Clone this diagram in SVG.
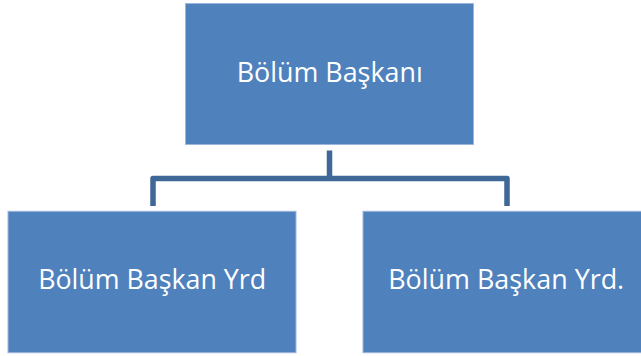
<svg xmlns="http://www.w3.org/2000/svg" width="641" height="356" viewBox="0 0 641 356">
<style>
.box{fill:#4F81BD;stroke:#9DB6DD;stroke-width:1}
.lbl{font-family:"Open Sans","Liberation Sans",sans-serif;font-size:27px;fill:#ffffff;text-anchor:middle}
.conn{fill:none;stroke:#3F6797;stroke-width:5.5;stroke-linejoin:round}
</style>
<rect width="641" height="356" fill="#ffffff"/>
<g id="connectors">
<path class="conn" d="M329.5,150.5 V178.5"/>
<path class="conn" d="M153,206 V178.5 H507 V206"/>
</g>
<g id="node-top">
<rect class="box" x="185.5" y="3.5" width="288" height="141"/>
<text class="lbl" x="329.7" y="82.3" textLength="186" lengthAdjust="spacingAndGlyphs">Bölüm Başkanı</text>
</g>
<g id="node-left">
<rect class="box" x="8" y="211.3" width="288" height="141.4"/>
<text class="lbl" x="152.2" y="289.3" textLength="228" lengthAdjust="spacingAndGlyphs">Bölüm Başkan Yrd</text>
</g>
<g id="node-right">
<rect class="box" x="363" y="211.3" width="288" height="141.4"/>
<text class="lbl" x="506.2" y="289.3" textLength="236" lengthAdjust="spacingAndGlyphs">Bölüm Başkan Yrd.</text>
</g>
</svg>
